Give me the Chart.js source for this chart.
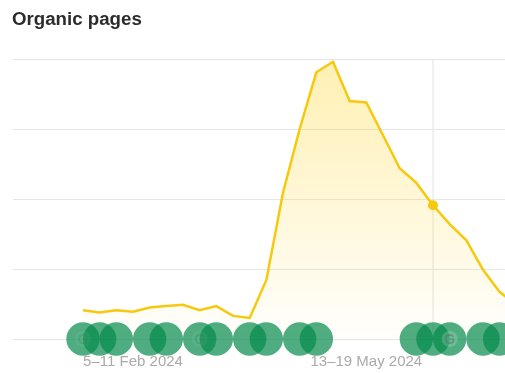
<!DOCTYPE html>
<html>
<head>
    <title>Organic pages</title>
    <script src="https://cdn.jsdelivr.net/npm/chart.js@4/dist/chart.umd.min.js"></script>
    <style>
        body {
            margin: 0;
            background: #fff;
            font-family: "Liberation Sans", Arial, sans-serif;
        }
        .wrap {
            position: relative;
            width: 505px;
            height: 373px;
            overflow: hidden;
        }
        h1 {
            position: absolute;
            left: 12px;
            top: 8px;
            margin: 0;
            font-size: 18.7px;
            line-height: 22px;
            font-weight: bold;
            color: #2b2b2b;
        }
    </style>
</head>
<body>
    <div class="wrap">
        <h1>Organic pages</h1>
        <canvas id="pagesChart" width="505" height="373"></canvas>
    </div>

    <script>
        const weekLabels = [
            '15–21 Jan 2024', '22–28 Jan 2024', '29 Jan–4 Feb 2024', '5–11 Feb 2024', '12–18 Feb 2024',
            '19–25 Feb 2024', '26 Feb–3 Mar 2024', '4–10 Mar 2024', '11–17 Mar 2024', '18–24 Mar 2024',
            '25–31 Mar 2024', '1–7 Apr 2024', '8–14 Apr 2024', '15–21 Apr 2024', '22–28 Apr 2024',
            '29 Apr–5 May 2024', '6–12 May 2024', '13–19 May 2024', '20–26 May 2024', '27 May–2 Jun 2024',
            '3–9 Jun 2024', '10–16 Jun 2024', '17–23 Jun 2024', '24–30 Jun 2024', '1–7 Jul 2024',
            '8–14 Jul 2024', '15–21 Jul 2024'
        ];
        const organicPages = [41, 38, 41, 39, 45, 47, 49, 41, 47, 33, 30, 84, 209, 300, 381, 396, 340, 338, 291, 244, 223, 191, 164, 141, 99, 67, 49];
        const updateWeeks = [0, 1, 2, 4, 5, 7, 8, 10, 11, 13, 14, 20, 21, 22, 24, 25];
        const googleWeeks = [0, 7, 22];
        const tickWeeks = [3, 17];
        const hoverWeek = 21;
        const gridTicks = [0, 100, 200, 300, 400];

        const lineColor = '#f6c90e';

        function areaFill(ctx) {
            const area = ctx.chart.chartArea;
            if (!area) return 'transparent';
            const g = ctx.chart.ctx.createLinearGradient(0, area.top, 0, area.bottom);
            g.addColorStop(0, 'rgba(255, 205, 0, 0.30)');
            g.addColorStop(1, 'rgba(255, 205, 0, 0.01)');
            return g;
        }

        // small "G" badge on top of some update markers
        const googleBadges = {
            id: 'googleBadges',
            afterDatasetsDraw(chart) {
                const c = chart.ctx;
                const y = chart.scales.y.getPixelForValue(0);
                c.save();
                c.textAlign = 'center';
                c.textBaseline = 'middle';
                c.font = 'bold 14px "Liberation Sans", Arial, sans-serif';
                googleWeeks.forEach(w => {
                    const x = chart.scales.x.getPixelForValue(w);
                    const top = w === 22;
                    c.fillStyle = top ? 'rgba(255,255,255,0.18)' : 'rgba(255,255,255,0.05)';
                    c.beginPath();
                    c.arc(x, y, 8, 0, Math.PI * 2);
                    c.fill();
                    c.fillStyle = top ? 'rgba(90,120,105,0.6)' : 'rgba(60,130,95,0.35)';
                    c.fillText('G', x, y + 1);
                });
                c.restore();
            }
        };

        new Chart(document.getElementById('pagesChart').getContext('2d'), {
            type: 'line',
            data: {
                datasets: [
                    {
                        // update markers sit on the baseline
                        data: updateWeeks.map(w => ({ x: w, y: 0 })),
                        showLine: false,
                        pointRadius: 16.7,
                        pointBorderWidth: 0,
                        pointBackgroundColor: 'rgba(4, 138, 76, 0.7)',
                        clip: false,
                        order: 1
                    },
                    {
                        data: organicPages.map((v, i) => ({ x: i, y: v })),
                        borderColor: lineColor,
                        borderWidth: 2.5,
                        backgroundColor: areaFill,
                        fill: 'origin',
                        tension: 0,
                        pointRadius: ctx => ctx.dataIndex === hoverWeek ? 5 : 0,
                        pointBorderWidth: 0,
                        pointBackgroundColor: lineColor,
                        order: 2
                    },
                    {
                        // hover crosshair
                        data: [{ x: hoverWeek, y: 0 }, { x: hoverWeek, y: 400 }],
                        borderColor: '#e2e2e2',
                        borderWidth: 1,
                        pointRadius: 0,
                        order: 3
                    }
                ]
            },
            options: {
                responsive: false,
                animation: false,
                layout: { autoPadding: false, padding: { top: 59, left: 13 } },
                plugins: {
                    legend: { display: false },
                    tooltip: { enabled: false }
                },
                scales: {
                    x: {
                        type: 'linear',
                        min: -4.2,
                        max: 25.32,
                        border: { display: false },
                        grid: { display: false },
                        afterBuildTicks: axis => { axis.ticks = tickWeeks.map(w => ({ value: w })); },
                        afterFit: axis => { axis.height = 34; },
                        ticks: {
                            autoSkip: false,
                            maxRotation: 0,
                            padding: 6,
                            color: '#aaaaaa',
                            font: { family: '"Liberation Sans", Arial, sans-serif', size: 15 },
                            callback: v => weekLabels[v]
                        }
                    },
                    y: {
                        min: 0,
                        max: 400,
                        border: { display: false },
                        afterBuildTicks: axis => { axis.ticks = gridTicks.map(v => ({ value: v })); },
                        grid: { color: '#e6e6e6', drawTicks: false },
                        ticks: { display: false }
                    }
                }
            },
            plugins: [googleBadges]
        });
    </script>
</body>
</html>
